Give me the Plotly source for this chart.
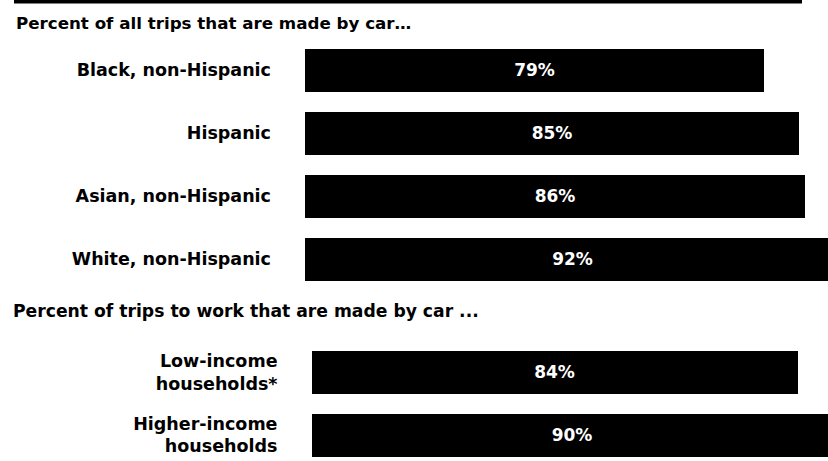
import plotly.graph_objects as go

W, H = 828, 461

# ---- data ----
title_all = "Percent of all trips that are made by car…"
groups_all = ["Black, non-Hispanic", "Hispanic", "Asian, non-Hispanic", "White, non-Hispanic"]
values_all = [79, 85, 86, 92]

title_work = "Percent of trips to work that are made by car ..."
groups_work = ["Low-income<br>households*", "Higher-income<br>households"]
values_work = [84, 90]

FONT = "DejaVu Sans"

def py(px):  # pixel from top -> paper fraction
    return 1 - px / H

fig = go.Figure()

fig.add_trace(go.Bar(
    x=values_all, y=groups_all, orientation="h",
    marker=dict(color="black", line=dict(width=0)),
    width=0.68,
    texttemplate="%{x}%", textposition="inside", insidetextanchor="middle",
    textfont=dict(family=FONT, size=17, color="white", weight="bold"),
    xaxis="x", yaxis="y", showlegend=False, hoverinfo="skip",
))

fig.add_trace(go.Bar(
    x=values_work, y=groups_work, orientation="h",
    marker=dict(color="black", line=dict(width=0)),
    width=0.68,
    texttemplate="%{x}%", textposition="inside", insidetextanchor="middle",
    textfont=dict(family=FONT, size=17, color="white", weight="bold"),
    xaxis="x2", yaxis="y2", showlegend=False, hoverinfo="skip",
))

tickfont = dict(family=FONT, size=17.5, color="black", weight="bold")

fig.update_layout(
    width=W, height=H,
    margin=dict(l=0, r=0, t=0, b=0),
    paper_bgcolor="white", plot_bgcolor="white",
    bargap=0,
    xaxis=dict(domain=[305 / W, 1], range=[0, 90.0], visible=False, anchor="y"),
    yaxis=dict(domain=[py(290.5), py(38.5)], range=[3.5, -0.5], anchor="x",
               categoryorder="array", categoryarray=groups_all,
               showgrid=False, showline=False, zeroline=False, ticks="",
               tickfont=tickfont, ticklabelstandoff=33),
    xaxis2=dict(domain=[311.5 / W, 1], range=[0, 89.2], visible=False, anchor="y2"),
    yaxis2=dict(domain=[0, py(340.5)], range=[1.413, -0.5], anchor="x2",
                categoryorder="array", categoryarray=groups_work,
                showgrid=False, showline=False, zeroline=False, ticks="",
                tickfont=tickfont, ticklabelstandoff=33),
    shapes=[dict(type="rect", xref="paper", yref="paper",
                 x0=14 / W, x1=802 / W, y0=py(3.5), y1=1,
                 fillcolor="black", line=dict(width=0))],
    annotations=[
        dict(text=title_all, xref="paper", yref="paper", x=14 / W, y=py(23),
             xanchor="left", yanchor="middle", showarrow=False,
             font=dict(family=FONT, size=16.7, color="black", weight="bold")),
        dict(text=title_work, xref="paper", yref="paper", x=11 / W, y=py(311),
             xanchor="left", yanchor="middle", showarrow=False,
             font=dict(family=FONT, size=17.2, color="black", weight="bold")),
    ],
)

fig.write_html("out.html")
